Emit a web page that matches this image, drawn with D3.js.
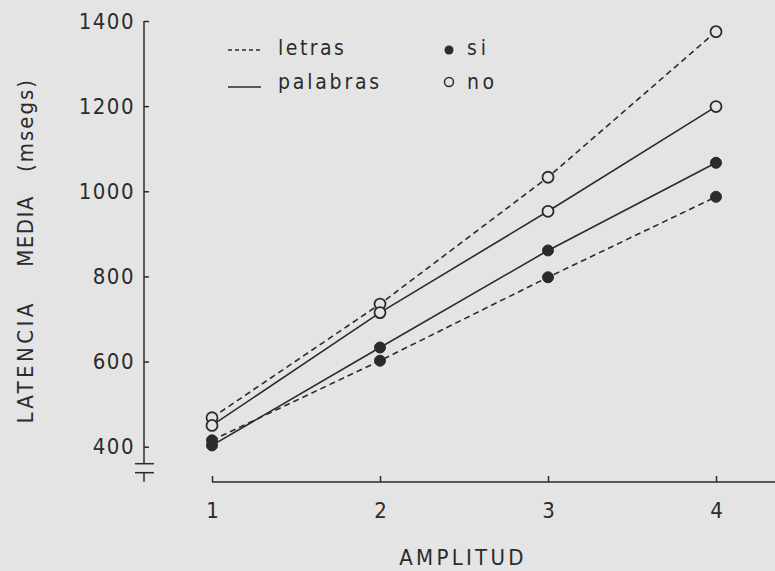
<!DOCTYPE html>
<html>
<head>
<meta charset="utf-8">
<script src="https://cdn.jsdelivr.net/npm/d3@7"></script>
<style>
  body { margin: 0; background: #e4e4e4; }
  svg { display: block; }
  text { font-family: "Liberation Sans Narrow", "DejaVu Sans Condensed", "Roboto", sans-serif; fill: #2b2b2b; }
</style>
</head>
<body>
<script>
const width = 775, height = 571;

// data
const amplitud = [1, 2, 3, 4];
const yTicks = [400, 600, 800, 1000, 1200, 1400];
const letrasSi = [415, 602, 798, 987];
const letrasNo = [468, 735, 1033, 1375];
const palabrasSi = [403, 633, 861, 1067];
const palabrasNo = [450, 715, 953, 1199];

const series = [
  {name: "letras", resp: "si", values: letrasSi, dashed: true, filled: true},
  {name: "letras", resp: "no", values: letrasNo, dashed: true, filled: false},
  {name: "palabras", resp: "si", values: palabrasSi, dashed: false, filled: true},
  {name: "palabras", resp: "no", values: palabrasNo, dashed: false, filled: false}
];

const ink = "#2b2b2b";
const bg = "#e4e4e4";

var x = d3.scaleLinear().domain([1, 4]).range([212, 716]);
var y = d3.scaleLinear().domain([400, 1400]).range([446.7, 21]);

var svg = d3.select("body").append("svg")
    .attr("width", width)
    .attr("height", height);

// y axis, ticks pointing inward
var yAxis = d3.axisLeft(y).tickValues(yTicks).tickFormat(d3.format("d"))
    .tickSizeInner(-5).tickSizeOuter(0).tickPadding(9);
var gy = svg.append("g")
    .attr("transform", "translate(144,0)")
    .call(yAxis);
gy.select(".domain").remove();
gy.selectAll(".tick line").attr("stroke", ink).attr("stroke-width", 1.5);
gy.selectAll(".tick text")
    .style("font-size", "22px")
    .attr("letter-spacing", 1.5)
    .attr("fill", ink);

// y axis line with break marks
var yBot = y(400);
gy.append("line").attr("x1", 0).attr("x2", 0).attr("y1", y(1400)).attr("y2", yBot + 17)
    .attr("stroke", ink).attr("stroke-width", 1.5);
gy.append("line").attr("x1", -9).attr("x2", 10).attr("y1", yBot + 17).attr("y2", yBot + 17)
    .attr("stroke", ink).attr("stroke-width", 1.5);
gy.append("line").attr("x1", -9).attr("x2", 10).attr("y1", yBot + 26).attr("y2", yBot + 26)
    .attr("stroke", ink).attr("stroke-width", 1.5);
gy.append("line").attr("x1", 0).attr("x2", 0).attr("y1", yBot + 26).attr("y2", yBot + 35)
    .attr("stroke", ink).attr("stroke-width", 1.5);

// x axis
var xAxis = d3.axisBottom(x).tickValues(amplitud).tickFormat(d3.format("d"))
    .tickSizeInner(-6).tickSizeOuter(0).tickPadding(20);
var gx = svg.append("g")
    .attr("transform", "translate(0,482)")
    .call(xAxis);
gx.select(".domain").remove();
gx.append("line").attr("x1", x(1)).attr("x2", width).attr("y1", 0).attr("y2", 0)
    .attr("stroke", ink).attr("stroke-width", 1.5);
gx.selectAll(".tick line").attr("stroke", ink).attr("stroke-width", 1.5);
gx.selectAll(".tick text").style("font-size", "22px").attr("fill", ink);

// axis titles
svg.append("text")
    .attr("x", 463).attr("y", 565)
    .attr("text-anchor", "middle")
    .style("font-size", "22px")
    .attr("letter-spacing", 3.3)
    .text("AMPLITUD");

var yLabels = [["LATENCIA", 362, 3.4], ["MEDIA", 231, 1.5], ["(msegs)", 125, 2]];
svg.selectAll(".ylab").data(yLabels).enter().append("text")
    .attr("class", "ylab")
    .attr("transform", function(d) { return "translate(33," + d[1] + ") rotate(-90)"; })
    .attr("text-anchor", "middle")
    .style("font-size", "22px")
    .attr("letter-spacing", function(d) { return d[2]; })
    .text(function(d) { return d[0]; });

// lines
var line = d3.line()
    .x(function(d, i) { return x(amplitud[i]); })
    .y(function(d) { return y(d); });

svg.selectAll(".serie").data(series).enter().append("path")
    .attr("class", "serie")
    .attr("d", function(d) { return line(d.values); })
    .attr("fill", "none")
    .attr("stroke", ink)
    .attr("stroke-width", 1.6)
    .attr("stroke-dasharray", function(d) { return d.dashed ? "6,4" : null; });

// markers
series.forEach(function(s) {
    svg.selectAll(null).data(s.values).enter().append("circle")
        .attr("cx", function(d, i) { return x(amplitud[i]); })
        .attr("cy", function(d) { return y(d); })
        .attr("r", 5.5)
        .attr("fill", s.filled ? ink : bg)
        .attr("stroke", ink)
        .attr("stroke-width", s.filled ? 1 : 1.8);
});

// legend
var leg = svg.append("g");
leg.append("line").attr("x1", 228).attr("x2", 261).attr("y1", 50).attr("y2", 50)
    .attr("stroke", ink).attr("stroke-width", 1.6).attr("stroke-dasharray", "4,3");
leg.append("line").attr("x1", 228).attr("x2", 261).attr("y1", 87).attr("y2", 87)
    .attr("stroke", ink).attr("stroke-width", 1.6);
leg.append("text").attr("x", 278).attr("y", 55).style("font-size", "21px")
    .attr("letter-spacing", 2.5).text("letras");
leg.append("text").attr("x", 278).attr("y", 89).style("font-size", "21px")
    .attr("letter-spacing", 2.8).text("palabras");
leg.append("circle").attr("cx", 449).attr("cy", 50).attr("r", 4.5).attr("fill", ink);
leg.append("circle").attr("cx", 449).attr("cy", 82).attr("r", 4.5)
    .attr("fill", "none").attr("stroke", ink).attr("stroke-width", 1.5);
leg.append("text").attr("x", 467).attr("y", 55).style("font-size", "21px")
    .attr("letter-spacing", 4).text("si");
leg.append("text").attr("x", 467).attr("y", 89).style("font-size", "21px")
    .attr("letter-spacing", 3.5).text("no");
</script>
</body>
</html>
